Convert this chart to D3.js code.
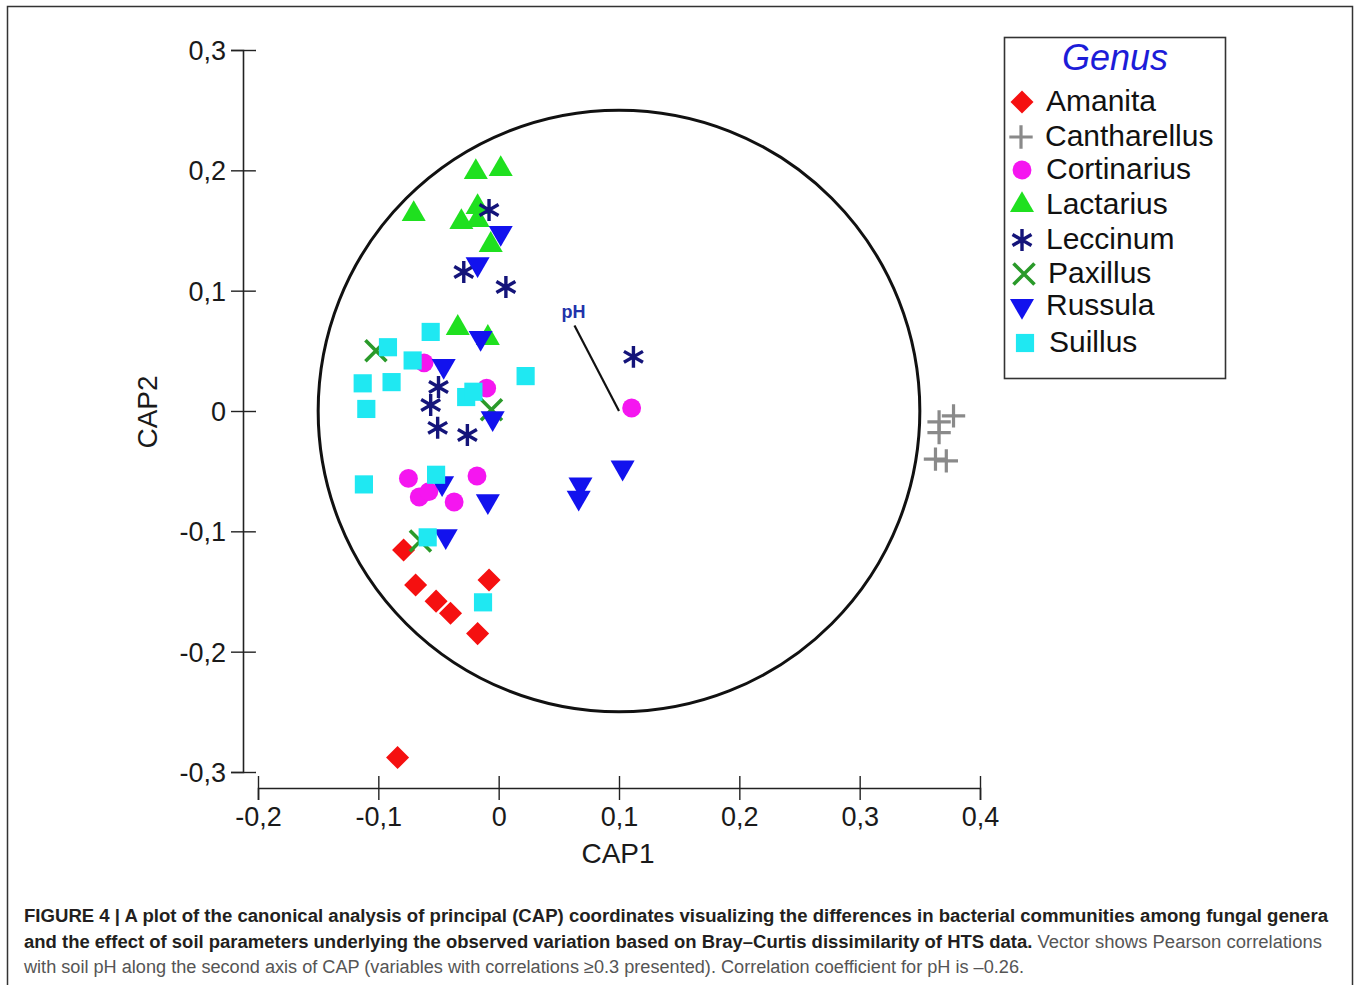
<!DOCTYPE html>
<html>
<head>
<meta charset="utf-8">
<script src="https://cdn.jsdelivr.net/npm/d3@7"></script>
<style>
  body { margin: 0; background: #fff; }
  svg { display: block; font-family: "Liberation Sans", Arial, sans-serif; }
</style>
</head>
<body>
<div class="chart"></div>
<script>
// genera and their CAP1 / CAP2 scores
var genera = ['Amanita', 'Cantharellus', 'Cortinarius', 'Lactarius', 'Leccinum', 'Paxillus', 'Russula', 'Suillus'];

var amanita = [[-0.079, -0.1155], [-0.069, -0.1446], [-0.052, -0.158], [-0.040, -0.168],
  [-0.008, -0.1405], [-0.0175, -0.185], [-0.084, -0.288]];
var cantharellus = [[0.378, -0.004], [0.366, -0.009], [0.366, -0.018], [0.363, -0.040], [0.372, -0.0415]];
var cortinarius = [[-0.062, 0.040], [-0.010, 0.019], [-0.075, -0.056], [-0.018, -0.054],
  [-0.066, -0.0715], [-0.058, -0.067], [-0.037, -0.0756], [0.1105, 0.0025]];
var lactarius = [[-0.019, 0.1986], [0.0017, 0.201], [-0.0706, 0.1637], [-0.031, 0.157],
  [-0.0175, 0.1695], [-0.0175, 0.1587], [-0.0066, 0.138], [-0.034, 0.069], [-0.009, 0.0607]];
var leccinum = [[-0.008, 0.167], [-0.029, 0.1155], [0.006, 0.103], [0.112, 0.045],
  [-0.050, 0.020], [-0.0565, 0.005], [-0.0507, -0.014], [-0.026, -0.020]];
var paxillus = [[-0.102, 0.050], [-0.006, 0.001], [-0.065, -0.108]];
var russula = [[0.0017, 0.148], [-0.0175, 0.122], [-0.015, 0.0607], [-0.0457, 0.0374],
  [-0.005, -0.006], [-0.047, -0.060], [-0.009, -0.075], [-0.044, -0.104],
  [0.103, -0.047], [0.068, -0.061], [0.0665, -0.072]];
var suillus = [[-0.0565, 0.0657], [-0.092, 0.053], [-0.0715, 0.042], [-0.113, 0.023],
  [-0.089, 0.024], [-0.110, 0.0017], [-0.027, 0.0116], [-0.021, 0.016], [0.0224, 0.029],
  [-0.112, -0.061], [-0.052, -0.053], [-0.059, -0.105], [-0.013, -0.159]];

var xTicks = [-0.2, -0.1, 0, 0.1, 0.2, 0.3, 0.4];
var yTicks = [-0.3, -0.2, -0.1, 0, 0.1, 0.2, 0.3];

// pH vector (end point) and the correlation circle
var phVector = [0.063, 0.071];
var circleCenter = [0.1, 0];
var circleRadius = 0.25;

var captionBold1 = 'FIGURE 4 | A plot of the canonical analysis of principal (CAP) coordinates visualizing the differences in bacterial communities among fungal genera';
var captionBold2 = 'and the effect of soil parameters underlying the observed variation based on Bray\u2013Curtis dissimilarity of HTS data.';
var captionRest2 = ' Vector shows Pearson correlations';
var captionLine3 = 'with soil pH along the second axis of CAP (variables with correlations \u22650.3 presented). Correlation coefficient for pH is \u20130.26.';

var seriesData = [amanita, cantharellus, cortinarius, lactarius, leccinum, paxillus, russula, suillus];

var styles = {
  Amanita:      {type: d3.symbolSquare,   size: 265, fill: '#f51010', rotate: 45},
  Cantharellus: {type: d3.symbolPlus,     size: 180, stroke: '#8a8a8a', width: 3.2},
  Cortinarius:  {type: d3.symbolCircle,   size: 280, fill: '#f516f0'},
  Lactarius:    {type: d3.symbolTriangle, size: 250, fill: '#1fe01f'},
  Leccinum:     {type: d3.symbolAsterisk, size: 340, stroke: '#14147a', width: 3.4},
  Paxillus:     {type: d3.symbolTimes,    size: 290, stroke: '#2a9a2a', width: 3.6},
  Russula:      {type: d3.symbolTriangle, size: 250, fill: '#1212ee', rotate: 180},
  Suillus:      {type: d3.symbolSquare,   size: 330, fill: '#1fe8f2'}
};

var svg = d3.select('.chart')
  .append('svg')
    .attr('width', 1357)
    .attr('height', 985);

// outer frame
svg.append('rect')
  .attr('x', 7.5).attr('y', 6.5)
  .attr('width', 1345).attr('height', 990)
  .attr('fill', 'none')
  .attr('stroke', '#333')
  .attr('stroke-width', 1.5);

var xScale = d3.scaleLinear().domain([-0.2, 0.4]).range([258, 980]);
var yScale = d3.scaleLinear().domain([-0.3, 0.3]).range([772, 50]);

var loc = d3.formatLocale({decimal: ',', thousands: '.', grouping: [3], currency: ['', ''], minus: '-'});
var fmt = d => Math.abs(d) < 1e-9 ? '0' : loc.format('.1f')(d);

// axes, ticks crossing the line
var xAxis = svg.append('g')
  .attr('transform', 'translate(0, 788)')
  .call(d3.axisBottom(xScale).tickValues(xTicks).tickFormat(fmt).tickSize(12).tickPadding(7));

xAxis.selectAll('.tick line').attr('y1', -12);

var yAxis = svg.append('g')
  .attr('transform', 'translate(243, 0)')
  .call(d3.axisLeft(yScale).tickValues(yTicks).tickFormat(fmt).tickSize(12).tickPadding(5));

yAxis.selectAll('.tick line').attr('x1', 13);

[xAxis, yAxis].forEach(function(ax) {
  ax.select('.domain').attr('stroke', '#222').attr('stroke-width', 1.6);
  ax.selectAll('.tick line').attr('stroke', '#222').attr('stroke-width', 1.4);
  ax.selectAll('.tick text')
    .attr('fill', '#1a1a1a')
    .style('font-size', '27px')
    .style('font-family', '"Liberation Sans", Arial, sans-serif');
});
yAxis.selectAll('.tick text').attr('dy', '0.35em');

svg.append('text')
  .attr('x', 618).attr('y', 863)
  .attr('text-anchor', 'middle')
  .attr('fill', '#1a1a1a')
  .style('font-size', '28px')
  .text('CAP1');

svg.append('text')
  .attr('transform', 'translate(157, 412) rotate(-90)')
  .attr('text-anchor', 'middle')
  .attr('fill', '#1a1a1a')
  .style('font-size', '28px')
  .text('CAP2');

// correlation circle
svg.append('circle')
  .attr('cx', xScale(circleCenter[0]))
  .attr('cy', yScale(circleCenter[1]))
  .attr('r', xScale(circleCenter[0] + circleRadius) - xScale(circleCenter[0]))
  .attr('fill', 'none')
  .attr('stroke', '#111')
  .attr('stroke-width', 3);

function symbolPath(g) {
  var s = styles[g];
  return d3.symbol().type(s.type).size(s.size)();
}

function styleMark(sel, g) {
  var s = styles[g];
  if (s.fill) sel.attr('fill', s.fill).attr('stroke', 'none');
  else sel.attr('fill', 'none').attr('stroke', s.stroke).attr('stroke-width', s.width);
  return sel;
}

// points
genera.forEach(function(g, i) {
  var s = styles[g];
  svg.append('g').attr('class', 'series')
    .selectAll('path')
    .data(seriesData[i])
    .enter()
    .append('path')
      .attr('d', symbolPath(g))
      .attr('transform', d => `translate(${xScale(d[0])}, ${yScale(d[1])})` + (s.rotate ? ` rotate(${s.rotate})` : ''))
      .call(styleMark, g);
});

// pH vector
svg.append('line')
  .attr('x1', xScale(circleCenter[0])).attr('y1', yScale(circleCenter[1]))
  .attr('x2', xScale(phVector[0])).attr('y2', yScale(phVector[1]))
  .attr('stroke', '#111')
  .attr('stroke-width', 2.2);

svg.append('text')
  .attr('x', xScale(phVector[0]) - 1)
  .attr('y', yScale(phVector[1]) - 8)
  .attr('text-anchor', 'middle')
  .attr('fill', '#2233aa')
  .style('font-size', '18px')
  .style('font-weight', 'bold')
  .text('pH');

// legend
var legend = svg.append('g');
legend.append('rect')
  .attr('x', 1004.5).attr('y', 37.5)
  .attr('width', 221).attr('height', 341)
  .attr('fill', '#fff')
  .attr('stroke', '#333')
  .attr('stroke-width', 1.6);

legend.append('text')
  .attr('x', 1115).attr('y', 70)
  .attr('text-anchor', 'middle')
  .attr('fill', '#1c1cd8')
  .style('font-size', '36px')
  .style('font-style', 'italic')
  .text('Genus');

var legendY = [100, 135, 168, 203, 238, 272, 304, 341];
var legendTextX = [1046, 1045, 1046, 1046, 1046, 1048, 1046, 1049];
var legendSymX = [1022, 1021, 1022, 1022, 1022, 1024, 1022, 1025];

genera.forEach(function(g, i) {
  var s = styles[g];
  legend.append('path')
    .attr('d', symbolPath(g))
    .attr('transform', `translate(${legendSymX[i]}, ${legendY[i] + 2})` + (s.rotate ? ` rotate(${s.rotate})` : ''))
    .call(styleMark, g);
  legend.append('text')
    .attr('x', legendTextX[i])
    .attr('y', legendY[i])
    .attr('dy', '0.35em')
    .attr('fill', '#111')
    .style('font-size', '30px')
    .text(g);
});

// caption
var cap = svg.append('g')
  .style('font-family', '"Liberation Sans Narrow", "Liberation Sans", Arial, sans-serif')
  .style('font-size', '18px');

cap.append('text')
  .attr('x', 24).attr('y', 922)
  .attr('fill', '#231f20')
  .style('font-weight', 'bold')
  .attr('textLength', 1304)
  .attr('lengthAdjust', 'spacingAndGlyphs')
  .text(captionBold1);

var l2 = cap.append('text')
  .attr('x', 24).attr('y', 948)
  .attr('textLength', 1298)
  .attr('lengthAdjust', 'spacingAndGlyphs');
l2.append('tspan').attr('fill', '#231f20').style('font-weight', 'bold').text(captionBold2);
l2.append('tspan').attr('fill', '#555').text(captionRest2);

cap.append('text')
  .attr('x', 24).attr('y', 973)
  .attr('fill', '#555')
  .attr('textLength', 1000)
  .attr('lengthAdjust', 'spacingAndGlyphs')
  .text(captionLine3);
</script>
</body>
</html>
